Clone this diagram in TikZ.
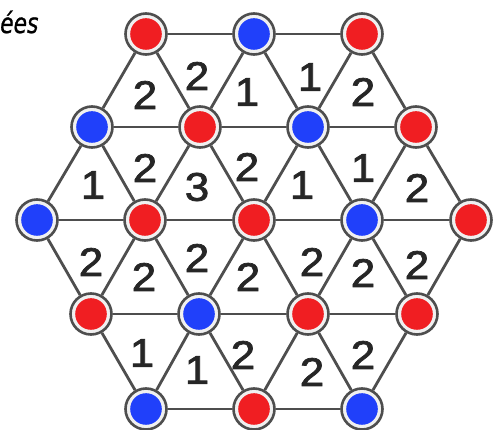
\documentclass[tikz,border=0pt]{standalone}
\usepackage{fontspec}
\setmainfont{Liberation Sans}
\newfontfamily\digfont{Liberation Sans}[FakeBold=1.8,FakeStretch=1.1]
\newfontfamily\labfont{DejaVu Sans}[ItalicFont={DejaVu Sans Oblique},FakeStretch=0.78,FakeBold=0.8]
\definecolor{nred}{RGB}{240,30,34}
\definecolor{nblue}{RGB}{32,64,250}
\definecolor{edgegray}{RGB}{78,78,78}
\definecolor{numgray}{RGB}{38,38,38}
\begin{document}
\begin{tikzpicture}[x=1pt,y=-1pt,
  edge/.style={draw=edgegray,line width=2.8pt},
  site/.style={circle,draw=edgegray,line width=2.6pt,fill=white!88!gray,minimum size=41pt,inner sep=0pt,
    path picture={\fill[#1] (path picture bounding box.center) circle (15.8pt);}},
  num/.style={text=numgray,font=\digfont\fontsize{40}{40}\selectfont,inner sep=0pt}]
\useasboundingbox (0,0) rectangle (501,430);
\fill[white] (0,0) rectangle (501,430);
% nodes
\node[site=nred]  (n00) at (146,34) {};
\node[site=nblue] (n01) at (254,34) {};
\node[site=nred]  (n02) at (362,34) {};
\node[site=nblue] (n10) at (92,127) {};
\node[site=nred]  (n11) at (200,127) {};
\node[site=nblue] (n12) at (308,127) {};
\node[site=nred]  (n13) at (416,127) {};
\node[site=nblue] (n20) at (37,220) {};
\node[site=nred]  (n21) at (145,220) {};
\node[site=nred]  (n22) at (254,220) {};
\node[site=nblue] (n23) at (362,220) {};
\node[site=nred]  (n24) at (471,220) {};
\node[site=nred]  (n30) at (91,314) {};
\node[site=nblue] (n31) at (199,314) {};
\node[site=nred]  (n32) at (308,314) {};
\node[site=nred]  (n33) at (417,314) {};
\node[site=nblue] (n40) at (146,409) {};
\node[site=nred]  (n41) at (254,409) {};
\node[site=nblue] (n42) at (362,409) {};
% edges
\foreach \a/\b in {00/01,01/02,10/11,11/12,12/13,20/21,21/22,22/23,23/24,30/31,31/32,32/33,40/41,41/42,
  00/10,00/11,01/11,01/12,02/12,02/13,
  10/20,10/21,11/21,11/22,12/22,12/23,13/23,13/24,
  30/20,30/21,31/21,31/22,32/22,32/23,33/23,33/24,
  40/30,40/31,41/31,41/32,42/32,42/33}
  \draw[edge] (n\a) -- (n\b);
% numbers
\foreach \x/\y/\t in {145/95/2,197/76/2,247/92/1,310/77/1,363/92/2,
  93/185/1,145/168/2,197/187/3,247/167/2,302/185/1,363/168/1,417/188/2,
  91/262/2,144/277/2,197/258/2,248/277/2,312/262/2,363/273/2,417/265/2,
  142/353/1,197/370/1,243/355/2,312/372/2,363/355/2}
  \node[num] (d\x\y) at (\x,\y) {\t};
% title fragment
\node[anchor=base west,inner sep=0pt,font=\labfont\itshape\fontsize{28}{28}\selectfont] (ttl) at (0,33) {ées};
\end{tikzpicture}
\end{document}
